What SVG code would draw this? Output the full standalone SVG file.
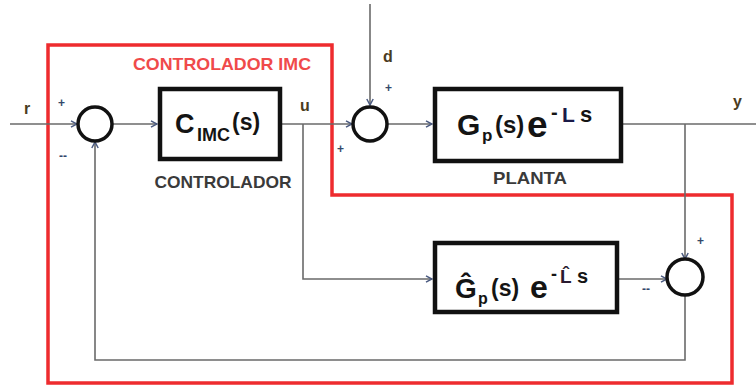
<svg xmlns="http://www.w3.org/2000/svg" width="756" height="389" viewBox="0 0 756 389">
<style>
.ln{fill:none;stroke:#6a6a6a;stroke-width:1.6}
.blk{fill:#fff;stroke:#111;stroke-width:4.5}
.sum{fill:#fff;stroke:#111;stroke-width:3.5}
.red{fill:none;stroke:#ee2b2e;stroke-width:3.5}
.t{font-family:"Liberation Sans",Arial,sans-serif;font-weight:bold}
.sig{font-size:16px;fill:#4a3c1e}
.sg{font-size:12px;fill:#34486a}
.cap{font-size:17px;fill:#3a3a3a}
.eq{fill:#141414}
</style>
<defs>
<marker id="ar" markerWidth="8" markerHeight="8" refX="7" refY="4" orient="auto" markerUnits="userSpaceOnUse">
<path d="M1,0.8 L7,4 L1,7.2" fill="none" stroke="#4a5a80" stroke-width="1.5"/>
</marker>
</defs>
<g id="imc-boundary">
<path class="red" d="M48,45 H332 V195 H732 V383 H48 Z"/>
<text class="t" x="222" y="70" text-anchor="middle" font-size="17" fill="#f04a4a" textLength="178" lengthAdjust="spacingAndGlyphs">CONTROLADOR IMC</text>
</g>
<g id="connectors">
<path class="ln" d="M10,124 H77" marker-end="url(#ar)"/>
<path class="ln" d="M113,124 H157" marker-end="url(#ar)"/>
<path class="ln" d="M281,124 H352" marker-end="url(#ar)"/>
<path class="ln" d="M370,4 V105" marker-end="url(#ar)"/>
<path class="ln" d="M388,124 H432" marker-end="url(#ar)"/>
<path class="ln" d="M622,124 H756"/>
<path class="ln" d="M685,124 V259" marker-end="url(#ar)"/>
<path class="ln" d="M303,124 V279 H432" marker-end="url(#ar)"/>
<path class="ln" d="M618,279 H667" marker-end="url(#ar)"/>
<path class="ln" d="M685,295 V360 H95 V142" marker-end="url(#ar)"/>
</g>
<g id="labels">
<text class="t sig" x="24" y="114">r</text>
<text class="t sig" x="300" y="111">u</text>
<text class="t sig" x="383" y="62">d</text>
<text class="t sig" x="733" y="107">y</text>
</g>
<g id="sum1">
<circle class="sum" cx="95" cy="124" r="17"/>
<text class="t sg" x="58" y="107">+</text>
<text class="t sg" x="59" y="160">--</text>
</g>
<g id="controller">
<rect class="blk" x="160" y="89" width="120" height="70"/>
<text class="t eq"><tspan x="175" y="133" font-size="27">C</tspan><tspan x="197" y="141" font-size="18">IMC</tspan><tspan x="232" y="130" font-size="23">(s)</tspan></text>
<text class="t cap" x="223" y="188" text-anchor="middle" textLength="137" lengthAdjust="spacingAndGlyphs">CONTROLADOR</text>
</g>
<g id="sum2">
<circle class="sum" cx="370" cy="124" r="17"/>
<text class="t sg" x="385" y="92">+</text>
<text class="t sg" x="337" y="153">+</text>
</g>
<g id="plant">
<rect class="blk" x="435" y="89" width="186" height="72"/>
<text class="t eq"><tspan x="457" y="135" font-size="30">G</tspan><tspan x="482" y="141" font-size="17">p</tspan><tspan x="495" y="133" font-size="24">(s)</tspan><tspan x="527" y="137" font-size="37">e</tspan><tspan x="551" y="119" font-size="20">-</tspan><tspan x="562" y="122" font-size="21" fill="#1a1a48">L</tspan><tspan x="580" y="122" font-size="22">s</tspan></text>
<text class="t cap" x="530" y="184" text-anchor="middle" textLength="74" lengthAdjust="spacingAndGlyphs">PLANTA</text>
</g>
<g id="model">
<rect class="blk" x="435" y="243" width="182" height="69"/>
<text class="t eq"><tspan x="455" y="298" font-size="28">Ĝ</tspan><tspan x="478" y="304" font-size="16">p</tspan><tspan x="491" y="296" font-size="23">(s)</tspan><tspan x="530" y="298" font-size="32">e</tspan><tspan x="551" y="280" font-size="18">-</tspan><tspan x="560" y="283" font-size="19" fill="#2a1a30">L̂</tspan><tspan x="577" y="283" font-size="20">s</tspan></text>
</g>
<g id="sum3">
<circle class="sum" cx="685" cy="277" r="18"/>
<text class="t sg" x="697" y="245">+</text>
<text class="t sg" x="642" y="293">--</text>
</g>
</svg>
